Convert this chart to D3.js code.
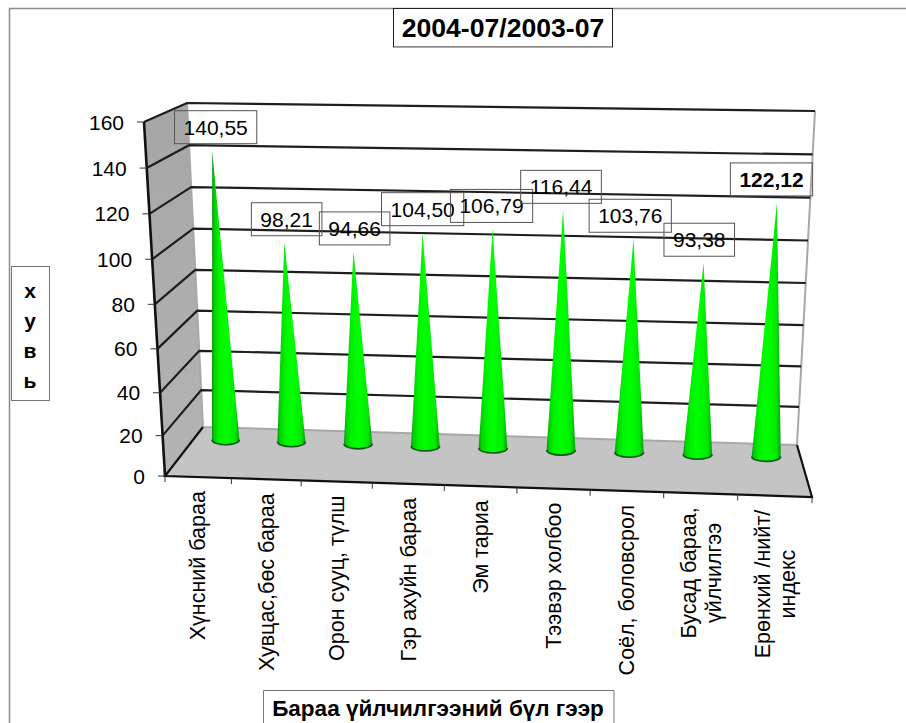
<!DOCTYPE html>
<html>

<head>
    <meta charset="UTF-8">
    <title>2004-07/2003-07</title>
    <script src="https://d3js.org/d3.v7.min.js"></script>
    <style>
        html, body { margin: 0; padding: 0; background: #fff; overflow: hidden; }
        text { font-family: "Liberation Sans", Arial, sans-serif; fill: #000; }
    </style>
</head>

<body>
    <svg id="chart" width="906" height="723"></svg>
    <script>
        // -------------data-------------
        var categories = [
            ["Хүнсний бараа"],
            ["Хувцас,бөс бараа"],
            ["Орон сууц, түлш"],
            ["Гэр ахуйн бараа"],
            ["Эм тариа"],
            ["Тээвэр холбоо"],
            ["Соёл, боловсрол"],
            ["Бусад бараа,", "үйлчилгээ"],
            ["Ерөнхий /нийт/", "индекс"]
        ];
        var values = [140.55, 98.21, 94.66, 104.50, 106.79, 116.44, 103.76, 93.38, 122.12];
        var yTicks = [0, 20, 40, 60, 80, 100, 120, 140, 160];
        var chartTitle = "2004-07/2003-07";
        var xTitle = "Бараа үйлчилгээний бүл гээр";
        var yTitle = ["х", "у", "в", "ь"];

        // -------------box of the 3d plot-------------
        var frontLeft = [[165, 476], [144, 122]];
        var backLeft = [[203, 427], [187, 103]];
        var backRight = [[797, 445], [815, 111]];
        var frontRight = [[812, 497], [822, 150]];
        var coneDepth = 0.76;

        var svg = d3.select("#chart");
        var defs = svg.append("defs");

        var xScale = d3.scaleBand().domain(d3.range(categories.length)).range([0, 1]);
        var yScale = d3.scalePow().exponent(1.044).domain([0, 160]).range([0, 1]);

        function mix(a, b, k) {
            return [a[0] + (b[0] - a[0]) * k, a[1] + (b[1] - a[1]) * k];
        }

        // u: across, d: depth (0 front, 1 back), t: height
        function project(u, d, t) {
            var w = Math.pow(u, 1.036 - 0.021 * d);
            var bottom = mix(mix(frontLeft[0], frontRight[0], w), mix(backLeft[0], backRight[0], w), d);
            var top = mix(mix(frontLeft[1], frontRight[1], w), mix(backLeft[1], backRight[1], w), d);
            return mix(bottom, top, t);
        }

        function poly(points) {
            return "M" + points.map(function(p) { return p[0] + "," + p[1]; }).join("L") + "Z";
        }

        // -------------frame-------------
        svg.append("path")
            .attr("d", "M9.5,723V8.5H906")
            .attr("fill", "none")
            .attr("stroke", "#8c8c8c")
            .attr("stroke-width", 1.5);

        // -------------walls-------------
        var wallGrad = defs.append("linearGradient")
            .attr("id", "wall")
            .attr("x1", 0).attr("y1", 0).attr("x2", 0).attr("y2", 1);
        wallGrad.append("stop").attr("offset", 0).attr("stop-color", "#a6a6a6");
        wallGrad.append("stop").attr("offset", 1).attr("stop-color", "#b4b4b4");

        svg.append("path")
            .attr("d", poly([project(0, 0, 0), project(0, 0, 1), project(0, 1, 1), project(0, 1, 0)]))
            .attr("fill", "url(#wall)");
        svg.append("path")
            .attr("d", poly([project(0, 0, 0), project(0, 1, 0), project(1, 1, 0), project(1, 0, 0)]))
            .attr("fill", "#c4c4c4");

        // back wall edges
        svg.append("path")
            .attr("d", "M" + project(0, 1, 1) + "L" + project(0, 1, 0) + "L" + project(1, 1, 0) + "L" + project(1, 1, 1))
            .attr("fill", "none")
            .attr("stroke", "#a8a8a8")
            .attr("stroke-width", 2);
        svg.append("path")
            .attr("d", "M" + project(0, 0, 1) + "L" + project(0, 1, 1))
            .attr("fill", "none")
            .attr("stroke", "#8a8a8a")
            .attr("stroke-width", 1.5);

        // -------------grid lines-------------
        svg.append("g").selectAll("path")
            .data(yTicks.filter(function(d) { return d > 0; }))
            .enter()
            .append("path")
            .attr("d", function(d) {
                var t = yScale(d);
                return "M" + project(0, 0, t) + "L" + project(0, 1, t) + "L" + project(1, 1, t);
            })
            .attr("fill", "none")
            .attr("stroke", "#1e1e1e")
            .attr("stroke-width", 2.2);

        // floor edges and value axis
        svg.append("path")
            .attr("d", "M" + project(0, 1, 0) + "L" + project(0, 0, 0) + "L" + project(1, 0, 0) + "L" + project(1, 1, 0))
            .attr("fill", "none")
            .attr("stroke", "#111")
            .attr("stroke-width", 2.2);
        svg.append("path")
            .attr("d", "M" + project(0, 0, 0) + "L" + project(0, 0, 1))
            .attr("fill", "none")
            .attr("stroke", "#111")
            .attr("stroke-width", 2.6);

        // -------------y axis-------------
        var yAxis = svg.append("g").selectAll("g")
            .data(yTicks)
            .enter()
            .append("g")
            .attr("transform", function(d) {
                return "translate(" + project(0, 0, yScale(d)) + ")";
            });
        yAxis.append("line")
            .attr("x1", -7).attr("x2", 0)
            .attr("stroke", "#333");
        yAxis.append("text")
            .attr("x", -20)
            .attr("dy", "0.36em")
            .attr("text-anchor", "end")
            .attr("font-size", 21)
            .text(function(d) { return d; });

        // -------------x axis-------------
        var xBreaks = d3.range(categories.length + 1);
        svg.append("g").selectAll("line")
            .data(xBreaks)
            .enter()
            .append("line")
            .attr("x1", function(d) { return project(d / categories.length, 0, 0)[0]; })
            .attr("x2", function(d) { return project(d / categories.length, 0, 0)[0]; })
            .attr("y1", function(d) { return project(d / categories.length, 0, 0)[1]; })
            .attr("y2", function(d) { return project(d / categories.length, 0, 0)[1] + 6; })
            .attr("stroke", "#333");

        var xLabels = svg.append("g").selectAll("g")
            .data(categories)
            .enter()
            .append("g")
            .attr("transform", function(d, i) {
                var c = xScale(i) + xScale.bandwidth() / 2;
                var p = project(c, 0, 0);
                return "translate(" + p[0] + "," + (p[1] + 14) + ") rotate(-90)";
            });
        xLabels.each(function(lines) {
            var g = d3.select(this);
            var first = g.append("text")
                .attr("font-size", 21.5)
                .attr("text-anchor", "end")
                .attr("y", lines.length > 1 ? -5 : 7.5)
                .text(lines[0]);
            if (lines.length > 1) {
                g.append("text")
                    .attr("font-size", 21.5)
                    .attr("text-anchor", "middle")
                    .attr("x", -first.node().getComputedTextLength() / 2)
                    .attr("y", 20)
                    .text(lines[1]);
            }
        });

        // -------------cones-------------
        var coneGrad = defs.append("linearGradient")
            .attr("id", "cone")
            .attr("x1", 0).attr("y1", 0).attr("x2", 1).attr("y2", 0);
        [[0, "#0a8a12"], [0.08, "#00d000"], [0.25, "#00f000"], [0.5, "#00ff00"], [0.85, "#00e800"], [1, "#0a9a12"]]
            .forEach(function(s) {
                coneGrad.append("stop").attr("offset", s[0]).attr("stop-color", s[1]);
            });
        defs.append("filter")
            .attr("id", "soft")
            .append("feGaussianBlur")
            .attr("stdDeviation", 0.5);

        function coneShape(v, i) {
            var c = xScale(i) + xScale.bandwidth() / 2;
            var base = project(c, coneDepth, 0);
            var tip = project(c, coneDepth, yScale(v));
            var rx = (project(c + 0.0235, coneDepth, 0)[0] - project(c - 0.0235, coneDepth, 0)[0]) / 2;
            return { base: base, tip: tip, rx: rx, ry: 5, c: c };
        }

        var cones = svg.append("g")
            .attr("filter", "url(#soft)")
            .selectAll("g")
            .data(values)
            .enter()
            .append("g");
        cones.append("path")
            .attr("d", function(d, i) {
                var s = coneShape(d, i);
                return "M" + (s.base[0] - s.rx) + "," + s.base[1] + "L" + s.tip +
                    "L" + (s.base[0] + s.rx) + "," + s.base[1] +
                    "A" + s.rx + "," + s.ry + " 0 0 1 " + (s.base[0] - s.rx) + "," + s.base[1] + "Z";
            })
            .attr("fill", "url(#cone)");
        cones.append("path")
            .attr("d", function(d, i) {
                var s = coneShape(d, i);
                return "M" + (s.base[0] + s.rx) + "," + s.base[1] +
                    "A" + s.rx + "," + s.ry + " 0 0 1 " + (s.base[0] - s.rx) + "," + s.base[1];
            })
            .attr("fill", "none")
            .attr("stroke", "#0b5c14")
            .attr("stroke-width", 1.6);

        // -------------data labels-------------
        function valueText(v) {
            return d3.format(".2f")(v).replace(".", ",");
        }

        var labels = svg.append("g").selectAll("g")
            .data(values)
            .enter()
            .append("g")
            .attr("transform", function(d, i) {
                var s = coneShape(d, i);
                return "translate(" + (s.tip[0] + 4 - 10 * s.c) + "," + (s.tip[1] - 23) + ")";
            });
        labels.append("text")
            .attr("text-anchor", "middle")
            .attr("dy", "0.36em")
            .attr("font-size", 21)
            .attr("font-weight", function(d, i) { return i === values.length - 1 ? "bold" : "normal"; })
            .text(valueText);
        labels.insert("rect", "text")
            .each(function() {
                var w = this.parentNode.querySelector("text").getComputedTextLength() + 18;
                d3.select(this)
                    .attr("x", -w / 2)
                    .attr("y", -16.5)
                    .attr("width", w)
                    .attr("height", 33);
            })
            .attr("fill", "none")
            .attr("stroke", "#555");

        // -------------titles-------------
        svg.append("rect")
            .attr("x", 393.5).attr("y", 8.5)
            .attr("width", 219).attr("height", 38.5)
            .attr("fill", "#fff")
            .attr("stroke", "#222");
        svg.append("line")
            .attr("x1", 393).attr("x2", 613)
            .attr("y1", 47.5).attr("y2", 47.5)
            .attr("stroke", "#aaa");
        svg.append("text")
            .attr("x", 503).attr("y", 37)
            .attr("text-anchor", "middle")
            .attr("font-size", 26.6)
            .attr("font-weight", "bold")
            .text(chartTitle);

        svg.append("rect")
            .attr("x", 11.5).attr("y", 266.5)
            .attr("width", 38).attr("height", 134)
            .attr("fill", "#fff")
            .attr("stroke", "#777");
        svg.append("g").selectAll("text")
            .data(yTitle)
            .enter()
            .append("text")
            .attr("x", 30)
            .attr("y", function(d, i) { return 298 + i * 30; })
            .attr("text-anchor", "middle")
            .attr("font-size", 21)
            .attr("font-weight", "bold")
            .text(function(d) { return d; });

        svg.append("path")
            .attr("d", "M263.5,723V690.5H614V723")
            .attr("fill", "#fff")
            .attr("stroke", "#777");
        svg.append("text")
            .attr("x", 438).attr("y", 716)
            .attr("text-anchor", "middle")
            .attr("font-size", 22.5)
            .attr("font-weight", "bold")
            .text(xTitle);
    </script>
</body>

</html>
